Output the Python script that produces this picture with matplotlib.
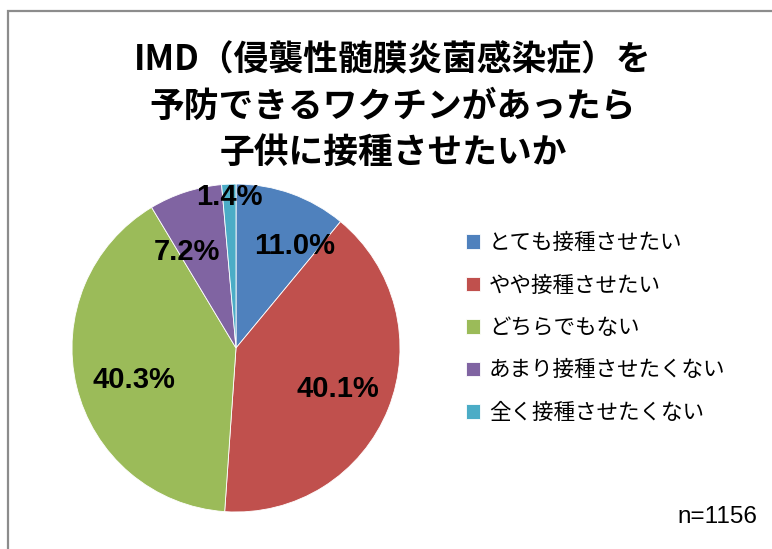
# pie chart: would parents vaccinate their child against IMD
import matplotlib
matplotlib.use('Agg')
import matplotlib.pyplot as plt
from matplotlib.patches import Rectangle
import numpy as np

plt.rcParams['font.family'] = ['Noto Sans CJK JP', 'DejaVu Sans']

# data
categories = ['とても接種させたい', 'やや接種させたい', 'どちらでもない',
              'あまり接種させたくない', '全く接種させたくない']
shares = [11.0, 40.1, 40.3, 7.2, 1.4]
colors = ['#4F81BD', '#C0504D', '#9BBB59', '#8064A2', '#4BACC6']
title_lines = ['IMD（侵襲性髄膜炎菌感染症）を', '予防できるワクチンがあったら', '子供に接種させたいか']
sample_note = 'n=1156'


def main():
    fig = plt.figure(figsize=(7.72, 5.49), dpi=100)

    # frame of the chart area (only top and left edges visible)
    fig.patches.append(Rectangle((8 / 772, -0.2), 1.2, (549 - 11) / 549 + 0.2,
                                 transform=fig.transFigure, fill=False,
                                 edgecolor='#8c8c8c', linewidth=1.6))

    # title, three lines
    for i, line in enumerate(title_lines):
        y_px = 60 + i * 46
        fig.text(393 / 772, 1 - y_px / 549, line, ha='center', va='center',
                 fontsize=25, fontweight='bold', color='black')

    # pie axes, centre about (236, 348) px, radius ~163 px
    cx, cy, r = 236, 348, 164
    ax = fig.add_axes([(cx - r) / 772, (549 - cy - r) / 549, 2 * r / 772, 2 * r / 549])
    wedges, texts = ax.pie(shares, colors=colors, startangle=90, counterclock=False,
                           wedgeprops=dict(edgecolor='white', linewidth=0.6))
    ax.set_xlim(-1, 1)
    ax.set_ylim(-1, 1)
    ax.set_aspect('equal')

    # percentage labels, placed inside the slices like Excel does
    label_dist = [0.72, 0.67, 0.65, 0.66, 0.92]
    angle_shift = [-10, 0, 4, 9, 0]
    for w, val, d, sh in zip(wedges, shares, label_dist, angle_shift):
        ang = np.deg2rad((w.theta1 + w.theta2) / 2 + sh)
        ax.text(d * np.cos(ang), d * np.sin(ang), f'{val:.1f}%', ha='center', va='center',
                fontsize=21, fontweight='bold', family='Liberation Sans', color='black')

    # legend at right
    fig.legend(wedges, categories, loc='center left',
               bbox_to_anchor=(447 / 772, 1 - 328 / 549), frameon=False,
               fontsize=15.5, handlelength=0.65, handleheight=0.65,
               handletextpad=0.4, labelspacing=0.95)

    fig.text(757 / 772, 1 - 517 / 549, sample_note, ha='right', va='center',
             fontsize=17.5, family='Liberation Sans', color='black')

    fig.savefig('out.png', dpi=100)


if __name__ == "__main__":
    main()
